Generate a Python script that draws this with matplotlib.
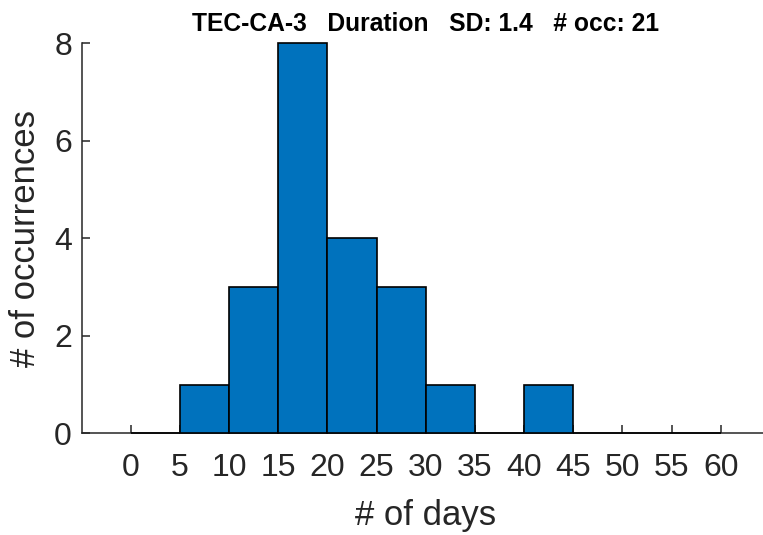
import matplotlib.pyplot as plt

# histogram of event durations, 5-day bins
bin_edges = [0, 5, 10, 15, 20, 25, 30, 35, 40, 45, 50, 55]
counts = [0, 1, 3, 8, 4, 3, 1, 0, 1, 0, 0, 0]
x_ticks = [0, 5, 10, 15, 20, 25, 30, 35, 40, 45, 50, 55, 60]
y_ticks = [0, 2, 4, 6, 8]

site = "TEC-CA-3"
sd = 1.4
n_occ = sum(counts)

plt.rcParams["font.family"] = ["Liberation Sans", "DejaVu Sans"]
axis_gray = (0.15, 0.15, 0.15)

fig = plt.figure(figsize=(7.63, 5.35), dpi=100)
ax = fig.add_axes([0.107, 0.19, 0.902, 0.729])

ax.bar(bin_edges, counts, width=5, align="edge", color="#0072BD",
       edgecolor="black", linewidth=1.2, clip_on=False, zorder=3)

ax.set_xlim(-5, 65)
ax.set_ylim(0, 8)
ax.set_xticks(x_ticks)
ax.set_yticks(y_ticks)

for side in ["top", "right"]:
    ax.spines[side].set_visible(False)
for side in ["left", "bottom"]:
    ax.spines[side].set_color(axis_gray)
    ax.spines[side].set_linewidth(1.1)

ax.tick_params(axis="both", direction="in", length=6, width=1.1,
               color=axis_gray, labelcolor=axis_gray, labelsize=23)
ax.tick_params(axis="x", pad=14)
ax.tick_params(axis="y", pad=7)

ax.set_xlabel("# of days", fontsize=25, color=axis_gray, labelpad=12)
ax.set_ylabel("# of occurrences", fontsize=25, color=axis_gray, labelpad=9)
ax.set_title(f"{site}   Duration   SD: {sd}   # occ: {n_occ}",
             fontsize=17.7, fontweight="bold", pad=9)

fig.savefig("out.png", dpi=100)
plt.close(fig)
